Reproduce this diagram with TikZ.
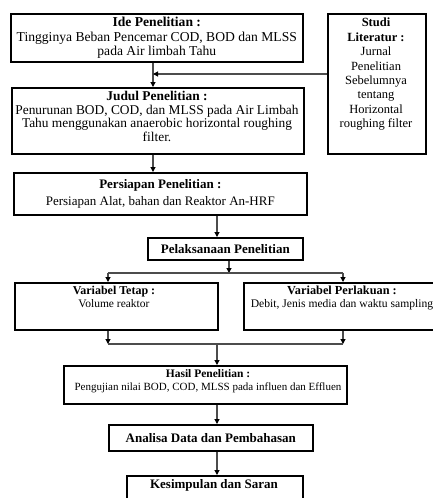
\documentclass[tikz,border=0pt]{standalone}
\usepackage{fontspec}
\setmainfont{Liberation Serif}
\usetikzlibrary{arrows.meta,calc}
\begin{document}
\begin{tikzpicture}[x=1pt,y=-1pt,
  box/.style={draw=black,line width=1.6pt,rectangle,inner sep=0pt,anchor=north west,align=center,
    font=\fontsize{13}{14.5}\selectfont},
  txt/.style={inner sep=0pt,align=center},
  conn/.style={draw=black!70,line width=1.1pt},
  arr/.style={conn,-{Triangle[length=5pt,width=5pt,color=black]}}]
\useasboundingbox (0,0) rectangle (433,498);
% boxes
\node[box,minimum width=292pt,minimum height=48pt,font=\fontsize{13.6}{14.5}\selectfont] (B1) at (10,13)
  {\textbf{Ide Penelitian :}\\Tingginya Beban Pencemar COD, BOD dan MLSS\\pada Air limbah Tahu};
\node[box,minimum width=98pt,minimum height=140pt] (S) at (327,13) {};
\node[txt,anchor=north,font=\fontsize{12.5}{14.4}\selectfont] (ST) at (376,18)
  {\textbf{Studi}\\\textbf{Literatur :}\\Jurnal\\Penelitian\\Sebelumnya\\tentang\\Horizontal\\roughing filter};
\node[box,minimum width=292pt,minimum height=66pt] (B2) at (11,87) {};
\node[txt,anchor=north,font=\fontsize{13.4}{13.5}\selectfont] (T2) at (157,91)
  {\textbf{Judul Penelitian :}\\Penurunan BOD, COD, dan MLSS pada Air Limbah\\Tahu menggunakan anaerobic horizontal roughing\\filter.};
\node[box,minimum width=293pt,minimum height=42pt,font=\fontsize{13}{17}\selectfont] (B3) at (13,172)
  {\textbf{Persiapan Penelitian :}\\Persiapan Alat, bahan dan Reaktor An-HRF};
\node[box,minimum width=155pt,minimum height=22pt] (B4) at (147,237)
  {\textbf{Pelaksanaan Penelitian}};
\node[box,minimum width=203pt,minimum height=47pt] (B5) at (14,282) {};
\node[txt,anchor=north,font=\fontsize{12}{13}\selectfont] (T5) at (114,286)
  {\textbf{Variabel Tetap :}\\\fontsize{11.5}{13}\selectfont Volume reaktor};
\node[box,minimum width=192pt,minimum height=47pt] (B6) at (243,282) {};
\node[txt,anchor=north,font=\fontsize{12.3}{13}\selectfont] (T6) at (342,286)
  {\textbf{Variabel Perlakuan :}\\\fontsize{11.6}{13}\selectfont Debit, Jenis media dan waktu sampling};
\node[box,minimum width=283pt,minimum height=38pt] (B7) at (63,365) {};
\node[txt,anchor=north,font=\fontsize{11.5}{13}\selectfont] (T7) at (208,369)
  {\textbf{Hasil Penelitian :}\\\fontsize{11}{13}\selectfont Pengujian nilai BOD, COD, MLSS pada influen dan Effluen};
\node[box,minimum width=204pt,minimum height=26pt] (B8) at (108,424)
  {\textbf{Analisa Data dan Pembahasan}};
\node[box,minimum width=176pt,minimum height=30pt] (B9) at (126,475) {};
\node[txt,anchor=north,font=\fontsize{13}{14}\selectfont] (T9) at (214,479)
  {\textbf{Kesimpulan dan Saran}};
% connectors
\coordinate (m) at (153,0);
\coordinate (j) at (153,74);
\coordinate (c) at (217,0);
\coordinate (d) at (229,273);
\coordinate (l1) at (108,273);
\coordinate (r1) at (343,273);
\coordinate (l2) at (108,344);
\coordinate (r2) at (343,344);
\draw[arr] (B1.south -| m) -- (B2.north -| m);
\draw[arr] (S.west |- j) -- (j);
\draw[arr] (B2.south -| m) -- (B3.north -| m);
\draw[arr] (B3.south -| c) -- (B4.north -| c);
\draw[arr] (B4.south -| d) -- (d);
\draw[conn] (l1) -- (r1);
\draw[arr] (l1) -- (B5.north -| l1);
\draw[arr] (r1) -- (B6.north -| r1);
\draw[arr] (B5.south -| l2) -- (l2);
\draw[arr] (B6.south -| r2) -- (r2);
\draw[conn] (l2) -- (r2);
\draw[arr] (c |- l2) -- (B7.north -| c);
\draw[arr] (B7.south -| c) -- (B8.north -| c);
\draw[arr] (B8.south -| c) -- (B9.north -| c);
\end{tikzpicture}
\end{document}
